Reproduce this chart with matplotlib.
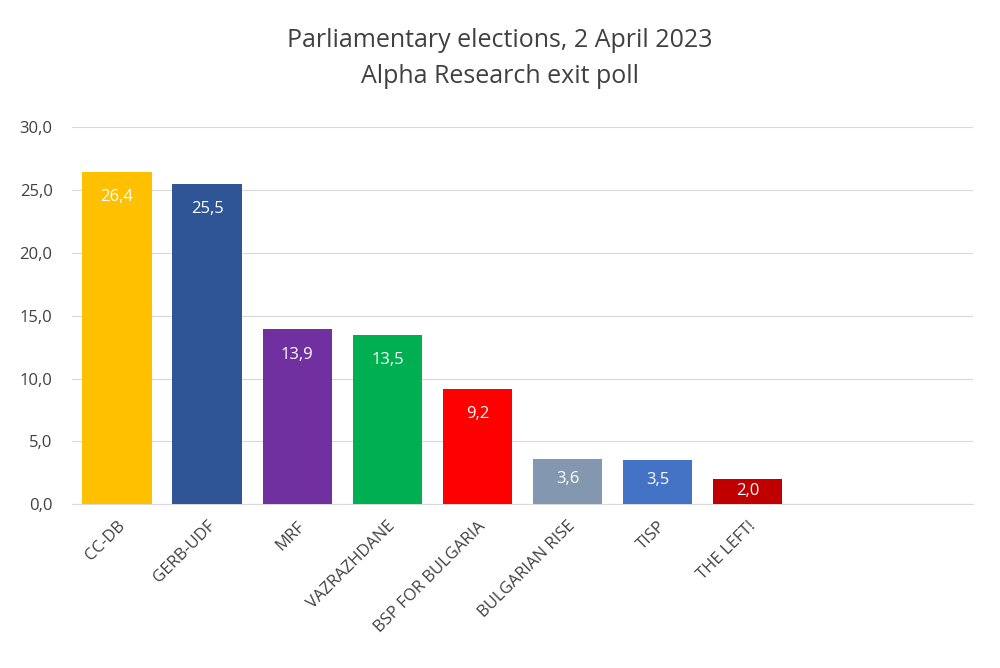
import matplotlib
matplotlib.use("Agg")
import matplotlib.pyplot as plt
from matplotlib.transforms import ScaledTranslation

categories = ["CC-DB", "GERB-UDF", "MRF", "VAZRAZHDANE", "BSP FOR BULGARIA",
              "BULGARIAN RISE", "TISP", "THE LEFT!", "", ""]
values = [26.4, 25.5, 13.9, 13.5, 9.2, 3.6, 3.5, 2.0, 0, 0]
colors = ["#FFC000", "#2F5597", "#7030A0", "#00B050", "#FF0000",
          "#8497B0", "#4472C4", "#C00000", "#ffffff", "#ffffff"]
yticks = [0, 5, 10, 15, 20, 25, 30]

plt.rcParams['font.family'] = ['Open Sans', 'DejaVu Sans']
fig = plt.figure(figsize=(10, 6.68), dpi=100)
ax = fig.add_axes([0.072, 0.245, 0.901, 0.565])
x = list(range(len(categories)))
ax.bar(x, values, width=0.77, color=colors, zorder=3)
for i, v in enumerate(values[:8]):
    ax.text(i, v - min(2.0, v * 0.45), f"{v:.1f}".replace(".", ","), ha="center", va="center",
            color="white", fontsize=12)
ax.set_xlim(-0.5, 9.5)
ax.set_ylim(0, 30)
ax.set_yticks(yticks)
ax.set_yticklabels([f"{t:.1f}".replace(".", ",") for t in yticks], fontsize=12, color="#404040")
ax.set_xticks(x[:8])
ax.set_xticklabels(categories[:8], rotation=45, ha="right", rotation_mode="anchor",
                   fontsize=12, color="#404040")
off = ScaledTranslation(0.12, 0, fig.dpi_scale_trans)
for lbl in ax.get_xticklabels():
    lbl.set_transform(lbl.get_transform() + off)
ax.grid(axis="y", color="#d9d9d9", zorder=0)
for s in ["top", "right", "left"]:
    ax.spines[s].set_visible(False)
ax.spines["bottom"].set_color("#d9d9d9")
ax.tick_params(axis="x", length=0, pad=10)
ax.tick_params(axis="y", length=0, pad=14)
fig.text(0.5, 0.94, "Parliamentary elections, 2 April 2023", ha="center", va="center",
         fontsize=18, color="#404040")
fig.text(0.5, 0.885, "Alpha Research exit poll", ha="center", va="center",
         fontsize=18, color="#404040")
fig.savefig("out.png")
